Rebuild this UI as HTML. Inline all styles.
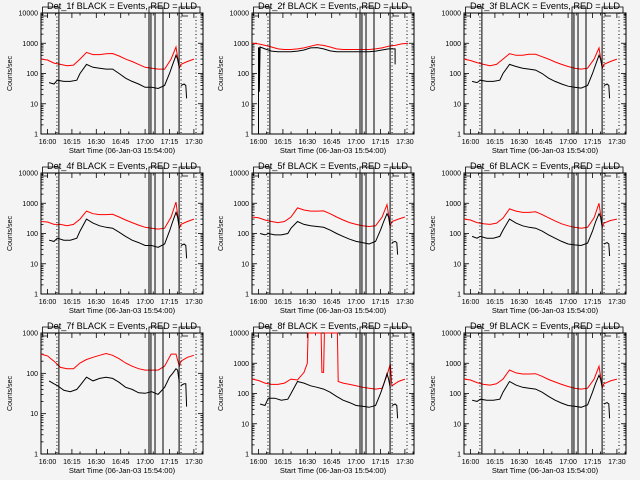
<!DOCTYPE html>
<html><head><meta charset="utf-8"><style>
html,body{margin:0;padding:0;background:#f4f4f4;}
svg{display:block;font-family:"Liberation Sans",sans-serif;}
</style></head><body>
<svg id="c" width="640" height="480" viewBox="0 0 640 480"></svg>
<script>
// ---- data (time in minutes after 15:56) ----
const panelTitles = ["Det_1f","Det_2f","Det_3f","Det_4f","Det_5f","Det_6f","Det_7f","Det_8f","Det_9f"];
const timeTickLabels = ["16:00","16:15","16:30","16:45","17:00","17:15","17:30"];
const timeTickValues = [4,19,34,49,64,79,94];
const redT = [0,4,8,12,16,20,24,28,32,36,40,44,48,52,56,60,64,68,72,76,80,83,85,86,90,94];
const blkT = [5,8,10,14,18,22,24,28,32,36,40,44,48,52,56,60,64,68,72,76,79,81,83,84,85,null,86,88,89,89.5];
const red1 = [300,280,220,200,180,190,300,500,420,420,450,460,380,300,250,200,160,150,140,140,300,750,150,200,250,300];
const blk1 = [50,45,60,55,55,60,100,200,160,150,140,140,100,70,55,45,35,35,32,40,100,200,400,300,150,null,40,45,40,15];
const red2T = [0,4,8,12,16,20,24,28,32,36,40,44,48,52,56,60,64,68,72,76,80,84,88,92,96];
const red2 = [1000,950,850,750,650,620,620,650,700,800,900,850,750,650,620,620,620,620,620,650,700,800,850,950,1000];
const blk2T = [4,4,4.5,4.5,5,8,12,16,20,24,28,32,36,40,44,48,52,56,60,64,68,72,76,80,84,88,88];
const blk2 = [1,700,700,25,750,650,550,520,520,520,550,600,700,720,650,560,520,520,520,520,520,520,550,600,650,650,200];
const red3 = [300,270,230,200,180,200,300,450,400,400,430,430,360,300,240,200,170,150,140,150,300,700,150,200,250,300];
const blk3 = [55,50,60,55,55,60,100,200,170,150,140,130,100,70,55,45,38,35,33,40,100,200,400,300,150,null,40,45,40,15];
const red4 = [250,240,200,200,180,200,300,550,450,420,420,430,350,280,230,190,160,150,140,150,350,1100,150,200,250,300];
const blk4 = [60,55,70,60,60,70,120,300,220,180,160,150,110,80,60,50,40,40,35,45,120,250,500,350,150,null,40,45,40,15];
const red5 = [350,330,280,250,230,250,350,700,600,550,550,560,450,350,280,230,200,180,170,180,350,900,180,250,300,350];
const blk5 = [100,90,100,90,90,100,150,250,200,180,170,160,130,100,80,65,55,50,45,55,130,250,450,350,150,null,50,55,50,20];
const red6 = [300,280,230,210,200,220,320,650,550,500,500,520,420,330,260,210,180,160,150,160,330,1000,170,220,270,300];
const blk6 = [80,70,80,70,70,80,130,300,220,180,160,150,120,90,70,55,45,42,40,48,120,250,450,350,150,null,45,50,45,18];
const red7 = [300,270,200,140,130,130,180,220,250,280,310,280,230,180,150,130,120,120,120,150,300,300,150,200,250,280];
const blk7 = [65,55,50,38,35,40,50,80,65,75,80,75,60,45,40,33,32,35,30,45,80,100,130,120,60,null,50,55,55,15];
const red8T = [0,4,8,12,16,20,24,28,32,34,34.5,42.5,43,44,44.5,52.5,53,56,60,64,68,72,76,80,83,85,86,90,94];
const red8 = [300,270,220,200,200,220,300,280,500,1000,10000,10000,500,500,10000,10000,250,220,200,180,160,150,140,150,400,950,180,250,300];
const blk8 = [45,40,70,70,60,65,100,250,220,180,160,140,110,80,60,50,40,38,35,40,100,200,450,300,150,null,40,45,40,15];
const red9 = [300,280,230,200,190,210,300,600,480,440,440,450,370,290,240,200,170,150,140,150,300,800,160,210,260,300];
const blk9 = [60,55,65,60,60,65,110,250,190,160,150,140,110,80,60,48,40,38,35,42,110,220,400,300,150,null,45,50,45,15];
const attenLinesSolid = [11,66.4,67.6,70.1,75,84.9];
const attenLinesDotted = [9.8,86.1,95.3];

const panels = [
 {rT:redT,r:red1,bT:blkT,b:blk1,dec:4},
 {rT:red2T,r:red2,bT:blk2T,b:blk2,dec:4},
 {rT:redT,r:red3,bT:blkT,b:blk3,dec:4},
 {rT:redT,r:red4,bT:blkT,b:blk4,dec:4},
 {rT:redT,r:red5,bT:blkT,b:blk5,dec:4},
 {rT:redT,r:red6,bT:blkT,b:blk6,dec:4},
 {rT:redT,r:red7,bT:blkT,b:blk7,dec:3},
 {rT:red8T,r:red8,bT:blkT,b:blk8,dec:4},
 {rT:redT,r:red9,bT:blkT,b:blk9,dec:4}
];

const svg = document.getElementById('c');
const NS = "http://www.w3.org/2000/svg";
function mk(tag, attrs, parent){
  const e = document.createElementNS(NS, tag);
  for (const k in attrs) e.setAttribute(k, attrs[k]);
  parent.appendChild(e);
  return e;
}
const colL = [41,252,464], rowT = [13,173,333], W = 162, H = 121, TMAX = 99.6;

panels.forEach((p, i) => {
  const L = colL[i%3], T = rowT[Math.floor(i/3)];
  const g = mk('g', {}, svg);
  
  
  const xS = t => L + t / TMAX * W;
  const yS = v => T + (p.dec - Math.log10(Math.max(v,1))) * H / p.dec;
  // top brackets (drawn under title)
  const br = mk('path', {d:`M${L+1.5},${T}V${T-6}H${xS(11)}V${T+3} M${xS(66.4)},${T}V${T-6}H${xS(75)}V${T+3} M${xS(84.9)},${T}V${T-6}H${L+W-3}V${T}`, fill:'none', stroke:'#000', 'stroke-width':0.8}, g);
  
  
  mk('path', {d:`M${L+1.5},${T}V${T+3}H${L+7} M${xS(86.1)+1},${T}V${T+3}H${xS(86.1)+7}`, fill:'none', stroke:'#000', 'stroke-width':0.8}, g);
  // title
  const tt = mk('text', {x:L+W/2, y:T-4, 'font-size':9, 'text-anchor':'middle', fill:'#000', stroke:'#f4f4f4', 'stroke-width':0, 'textLength':150, 'lengthAdjust':'spacingAndGlyphs'}, g);
  tt.textContent = panelTitles[i] + " BLACK = Events, RED = LLD";
  
  
  // frame
  const fr = mk('rect', {x:L, y:T, width:W, height:H, fill:'none', stroke:'#000', 'stroke-width':1}, g);
  
  
  // y ticks
  for (let d = 0; d <= p.dec; d++) {
    const v = Math.pow(10, d), y = yS(v);
    const lb = mk('text', {x:L-3, y:y+2.5, 'font-size':7, 'text-anchor':'end', fill:'#000'}, g);
    lb.textContent = String(v);
    
    
    mk('line', {x1:L, x2:L+5, y1:y, y2:y, stroke:'#000', 'stroke-width':0.8}, g);
    mk('line', {x1:L+W-5, x2:L+W, y1:y, y2:y, stroke:'#000', 'stroke-width':0.8}, g);
    if (d < p.dec) for (let m = 2; m <= 9; m++) {
      const ym = yS(v*m);
      mk('line', {x1:L, x2:L+2.5, y1:ym, y2:ym, stroke:'#000', 'stroke-width':0.8}, g);
      mk('line', {x1:L+W-2.5, x2:L+W, y1:ym, y2:ym, stroke:'#000', 'stroke-width':0.8}, g);
    }
  }
  // x ticks
  timeTickValues.forEach((tv, k) => {
    const x = xS(tv);
    mk('line', {x1:x, x2:x, y1:T+H, y2:T+H-5, stroke:'#000', 'stroke-width':0.8}, g);
    mk('line', {x1:x, x2:x, y1:T, y2:T+5, stroke:'#000', 'stroke-width':0.8}, g);
    const lb = mk('text', {x:x, y:T+H+10, 'font-size':7, 'text-anchor':'middle', fill:'#000'}, g);
    lb.textContent = timeTickLabels[k];
    
    
  });
  for (let tv = 9; tv < TMAX; tv += 15) {
    const x = xS(tv);
    mk('line', {x1:x, x2:x, y1:T+H, y2:T+H-2.5, stroke:'#000', 'stroke-width':0.8}, g);
    mk('line', {x1:x, x2:x, y1:T, y2:T+2.5, stroke:'#000', 'stroke-width':0.8}, g);
  }
  // axis titles
  const xl = mk('text', {x:L+W/2, y:T+H+19, 'font-size':7.5, 'text-anchor':'middle', fill:'#000'}, g);
  xl.textContent = "Start Time (06-Jan-03 15:54:00)";
  
  
  const yl = mk('text', {x:0, y:0, 'font-size':7, 'text-anchor':'middle', fill:'#000', transform:`translate(${L-29},${T+H/2}) rotate(-90)`}, g);
  yl.textContent = "Counts/sec";
  
  
  // series
  function series(ts, vs, color, name) {
    let d = '', pen = false;
    ts.forEach((t, k) => {
      if (t === null || vs[k] === null) { pen = false; return; }
      d += (pen ? 'L' : 'M') + xS(t).toFixed(1) + ',' + yS(vs[k]).toFixed(1);
      pen = true;
    });
    const pa = mk('path', {d:d, fill:'none', stroke:color, 'stroke-width':1}, g);
    
    
  }
  series(p.rT, p.r, '#ff0000', 'lld-series');
  series(p.bT, p.b, '#000000', 'events-series');
  // attenuator lines
  attenLinesSolid.forEach(tv => {
    const ln = mk('line', {x1:xS(tv), x2:xS(tv), y1:T, y2:T+H, stroke:'#000', 'stroke-width':1}, g);
    
    
  });
  attenLinesDotted.forEach(tv => {
    const ln = mk('line', {x1:xS(tv), x2:xS(tv), y1:T, y2:T+H, stroke:'#000', 'stroke-width':1, 'stroke-dasharray':'1,2.5'}, g);
    
    
  });
});
</script>
</body></html>
